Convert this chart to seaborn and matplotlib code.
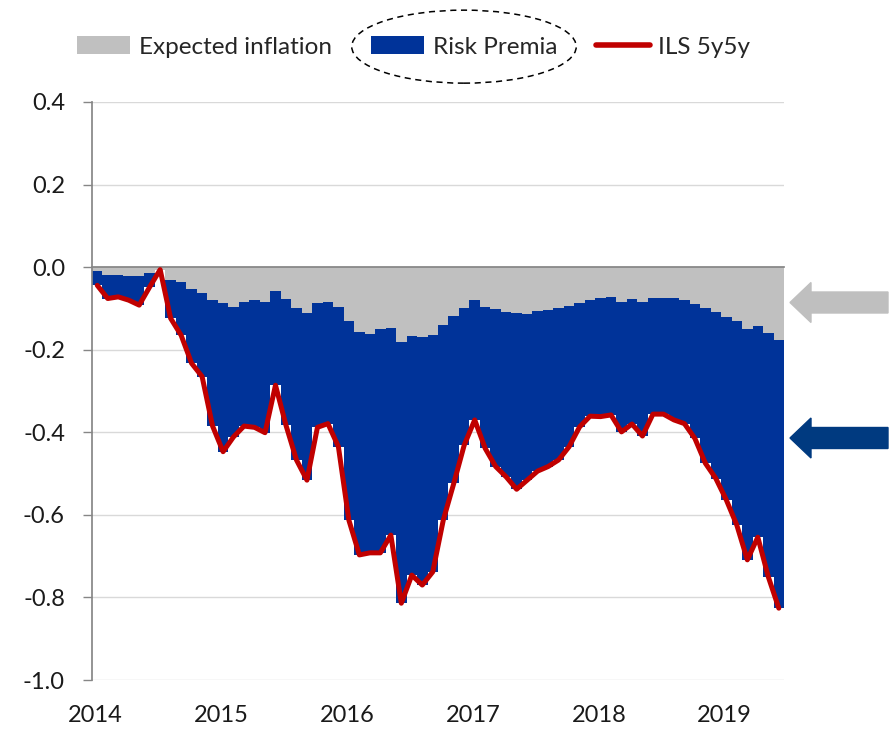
import numpy as np
import pandas as pd
import matplotlib
matplotlib.use("Agg")
import matplotlib.pyplot as plt
import seaborn as sns
from matplotlib.patches import Patch, Ellipse, FancyArrow
from matplotlib.lines import Line2D
from matplotlib.transforms import Bbox, IdentityTransform, blended_transform_factory

# Dados mensais, jan/2014 a jun/2019
anos = ['2014', '2015', '2016', '2017', '2018', '2019']

inflacao_esperada = [
    -0.009, -0.019, -0.019, -0.021, -0.022, -0.015, -0.006, -0.031, -0.037, -0.054, -0.062, -0.080,
    -0.086, -0.096, -0.084, -0.080, -0.085, -0.057, -0.078, -0.100, -0.112, -0.088, -0.085, -0.096,
    -0.131, -0.157, -0.161, -0.151, -0.148, -0.182, -0.167, -0.170, -0.165, -0.140, -0.119, -0.098,
    -0.080, -0.096, -0.101, -0.108, -0.112, -0.114, -0.106, -0.104, -0.100, -0.094, -0.088, -0.080,
    -0.074, -0.073, -0.084, -0.078, -0.085, -0.074, -0.075, -0.075, -0.080, -0.090, -0.100, -0.109,
    -0.120, -0.131, -0.151, -0.143, -0.159, -0.177,
]

ils_5y5y = [
    -0.044, -0.076, -0.072, -0.080, -0.092, -0.048, -0.006, -0.124, -0.165, -0.233, -0.265, -0.385,
    -0.447, -0.411, -0.385, -0.388, -0.401, -0.286, -0.383, -0.467, -0.516, -0.388, -0.379, -0.435,
    -0.613, -0.697, -0.692, -0.692, -0.649, -0.814, -0.746, -0.770, -0.738, -0.613, -0.524, -0.431,
    -0.370, -0.439, -0.483, -0.508, -0.538, -0.516, -0.494, -0.483, -0.467, -0.435, -0.387, -0.361,
    -0.362, -0.358, -0.399, -0.380, -0.409, -0.356, -0.356, -0.370, -0.379, -0.415, -0.475, -0.512,
    -0.564, -0.625, -0.709, -0.654, -0.750, -0.826,
]

ticks_y = [-1.0, -0.8, -0.6, -0.4, -0.2, 0.0, 0.2, 0.4]
rotulos_y = ['-1.0', '-0.8', '-0.6', '-0.4', '-0.2', '0.0', '0.2', '0.4']

df = pd.DataFrame({
    'mes': np.arange(len(ils_5y5y)),
    'inflacao': inflacao_esperada,
    'ils': ils_5y5y,
})
# prêmio de risco = ILS - inflação esperada (barra azul empilhada abaixo da cinza)
df['premio'] = df['ils'] - df['inflacao']

cinza = '#C0C0C0'
azul = '#003399'
vermelho = '#C00000'
eixo = '#868686'

sns.set_theme(style='white')
plt.rcParams['font.family'] = ['Lato', 'DejaVu Sans']

fig = plt.figure(figsize=(8.95, 7.29), dpi=100)
ax = fig.add_axes([0.1028, 0.0672, 0.7732, 0.7929])

# barra azul vai de 0 até o total; a cinza (inflação) é desenhada por cima
sns.barplot(data=df, x='mes', y='ils', color=azul, saturation=1, width=1,
            linewidth=0, antialiased=False, errorbar=None, ax=ax)
sns.barplot(data=df, x='mes', y='inflacao', color=cinza, saturation=1, width=1,
            linewidth=0, antialiased=False, errorbar=None, ax=ax)
sns.lineplot(data=df, x='mes', y='ils', color=vermelho, linewidth=3.6, ax=ax, zorder=4)

ax.set_xlim(-0.5, len(df) - 0.5)
ax.set_ylim(-1.0, 0.4)
ax.set_xlabel('')
ax.set_ylabel('')

ax.set_yticks(ticks_y)
ax.set_yticklabels(rotulos_y)
ax.yaxis.grid(True, color='#D9D9D9', linewidth=1)
ax.xaxis.grid(False)
ax.set_axisbelow(True)
ax.tick_params(axis='y', direction='out', left=True, length=6.5, width=1, color=eixo,
               labelsize=17, pad=13, labelcolor='#1a1a1a')

# eixo x cruzando em zero, rótulos embaixo
pos_anos = [-0.5 + 12 * k for k in range(len(anos))]
ax.spines['bottom'].set_position(('data', 0))
ax.spines['bottom'].set_color(eixo)
ax.spines['bottom'].set_zorder(3)
ax.spines['left'].set_color(eixo)
ax.spines['top'].set_visible(False)
ax.spines['right'].set_visible(False)
ax.set_xticks(pos_anos)
ax.tick_params(axis='x', direction='out', bottom=True, length=7, width=1, color=eixo,
               labelbottom=False)
trans = blended_transform_factory(ax.transData, ax.transAxes)
for p, ano in zip(pos_anos, anos):
    ax.text(p + 0.35, -0.0606, ano, transform=trans, ha='center', va='center',
            fontsize=17, color='#1a1a1a')

# legenda
handles = [
    Patch(facecolor=cinza, edgecolor='none'),
    Patch(facecolor=azul, edgecolor='none'),
    Line2D([0], [0], color=vermelho, linewidth=4),
]
labels = ['Expected inflation', 'Risk Premia', 'ILS 5y5y']
leg = fig.legend(handles, labels, loc='center', bbox_to_anchor=(0.462, 0.936), ncol=3,
                 frameon=False, fontsize=17.5, handlelength=2.2, handleheight=0.8,
                 handletextpad=0.35, columnspacing=1.6)

# setas à direita
fig.add_artist(FancyArrow(8.88, (729 - 302.5) / 100, -0.98, 0, width=0.21, head_width=0.40,
                          head_length=0.21, length_includes_head=True, color='#BFBFBF',
                          transform=fig.dpi_scale_trans))
fig.add_artist(FancyArrow(8.88, (729 - 438) / 100, -0.98, 0, width=0.21, head_width=0.40,
                          head_length=0.21, length_includes_head=True, color='#003A80',
                          transform=fig.dpi_scale_trans))

# elipse tracejada em volta de "Risk Premia"
fig.canvas.draw()
r = fig.canvas.get_renderer()
bb = Bbox.union([leg.get_texts()[1].get_window_extent(r),
                 leg.legend_handles[1].get_window_extent(r)])
fig.add_artist(Ellipse(((bb.x0 + bb.x1) / 2, (bb.y0 + bb.y1) / 2), bb.width + 38, 73,
                       transform=IdentityTransform(), fill=False, edgecolor='black',
                       linewidth=1.1, linestyle=(0, (4, 3))))

plt.savefig('out.png', dpi=100)
